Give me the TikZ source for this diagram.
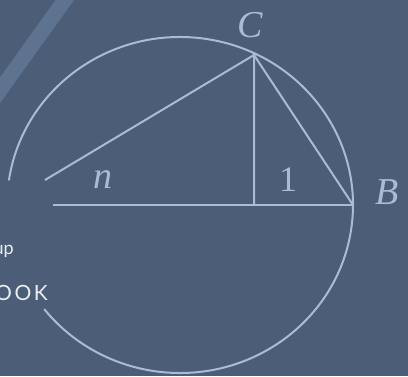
\documentclass[tikz,border=0pt]{standalone}
\usepackage{fontspec}
\setmainfont{Liberation Serif}
\newfontfamily\coverfont[LetterSpace=12]{Lato}
\newfontfamily\smallfont{Lato}
\definecolor{slate}{HTML}{4C5E77}
\definecolor{pale}{HTML}{A8BCD5}
\definecolor{bandblue}{HTML}{5D7390}
\definecolor{offwhite}{HTML}{E9EDF2}
\tikzset{
	chord/.style={pale,line width=2pt},
	lbl/.style={pale,inner sep=0pt,font=\fontsize{38}{40}\selectfont\itshape},
}

\begin{document}
\begin{tikzpicture}[x=1pt,y=1pt]
	\fill[slate] (0,0) rectangle (408,376);
	\clip (0,0) rectangle (408,376);
	\draw[bandblue,line width=15pt] (-7,276)--(72,386);
	% circle, open on the left
	\coordinate (O) at (180,171);
	\draw[chord] ([shift={(171.6:173 and 168)}]O) arc[start angle=171.6,end angle=-141.7,x radius=173,y radius=168];
	\coordinate (A) at (53,171);
	\coordinate (E) at (45,196);
	\coordinate (B) at (353,171);
	\coordinate (C) at (254,321);
	\coordinate (D) at (254,171);
	\draw[chord] (A)--(B);
	\draw[chord] (E)--(C)--(D);
	\draw[chord] (C)--(B);
	\node[lbl] (Clbl) at (250,351) {C};
	\node[lbl] (Blbl) at (387.5,183.5) {B};
	\node[lbl] (nlbl) at (103,196) {n};
	\node[lbl,font=\fontsize{36}{40}\selectfont] (onelbl) at (288,196.5) {1};
	% cover text, cut at the edge
	\node[offwhite,inner sep=0pt,anchor=base east,font=\smallfont\fontsize{18}{20}\selectfont] (group) at (14,122) {up};
	\node[offwhite,inner sep=0pt,anchor=base east,font=\coverfont\fontsize{21}{24}\selectfont] (book) at (48,76) {OOK};
\end{tikzpicture}
\end{document}
